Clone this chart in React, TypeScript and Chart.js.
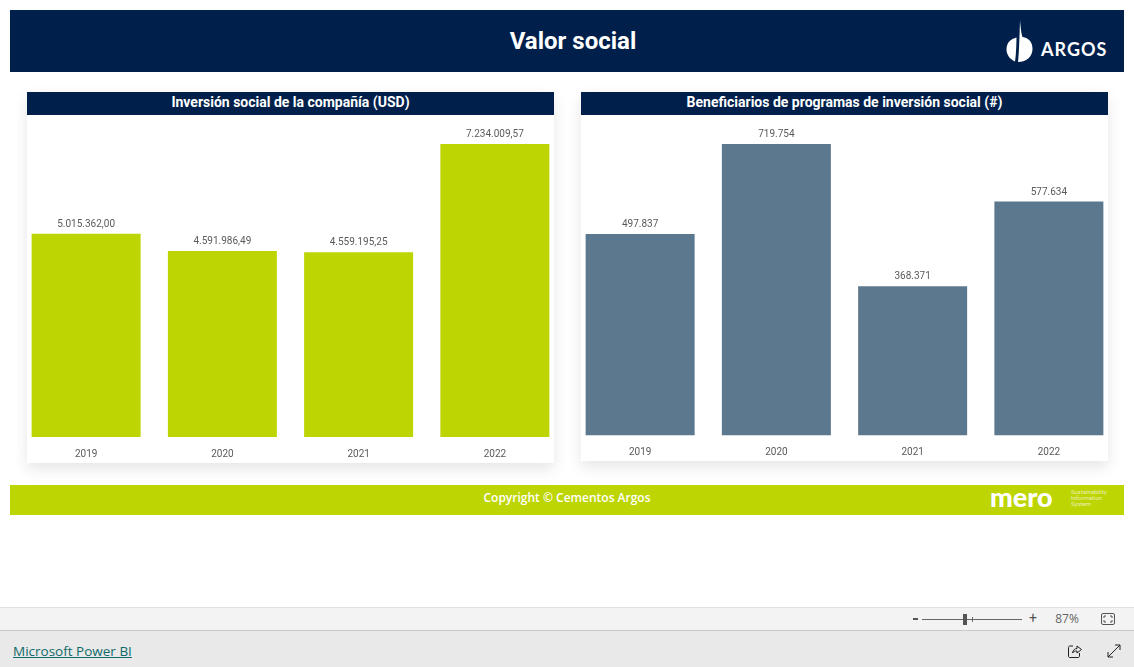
import React, { useEffect, useRef } from "react";
import { Chart, registerables } from "chart.js";

Chart.register(...registerables);

const years = ["2019", "2020", "2021", "2022"];
const investment = [5015362.0, 4591986.49, 4559195.25, 7234009.57];
const investmentLabels = ["5.015.362,00", "4.591.986,49", "4.559.195,25", "7.234.009,57"];
const beneficiaries = [497837, 719754, 368371, 577634];
const beneficiaryLabels = ["497.837", "719.754", "368.371", "577.634"];

const NAVY = "#001F4B";
const LIME = "#BDD503";
const SLATE = "#5C788F";
const FONT = "Roboto, sans-serif";

function BarPanel(props: {
  values: number[];
  labels: string[];
  color: string;
  left: number;
  height: number;
  axisHeight: number;
}) {
  const ref = useRef<HTMLCanvasElement>(null);
  useEffect(() => {
    const valuePlugin = {
      id: "valueLabels",
      afterDatasetsDraw(chart: any) {
        const { ctx } = chart;
        const meta = chart.getDatasetMeta(0);
        ctx.save();
        ctx.font = `10px ${FONT}`;
        ctx.fillStyle = "#5A5A5A";
        ctx.textAlign = "center";
        ctx.textBaseline = "alphabetic";
        meta.data.forEach((bar: any, i: number) => {
          ctx.fillText(props.labels[i], bar.x, bar.y - 7);
        });
        ctx.restore();
      },
    };
    const chart = new Chart(ref.current!, {
      type: "bar",
      data: {
        labels: years,
        datasets: [
          {
            data: props.values,
            backgroundColor: props.color,
            barPercentage: 0.8,
            categoryPercentage: 1,
          },
        ],
      },
      options: {
        animation: false,
        responsive: false,
        layout: { padding: { top: 29, left: 0, right: 0, bottom: 0 } },
        plugins: { legend: { display: false }, tooltip: { enabled: false }, title: { display: false } },
        scales: {
          x: {
            grid: { display: false },
            border: { display: false },
            afterFit(scale: any) {
              scale.height = props.axisHeight;
            },
            ticks: {
              color: "#5A5A5A",
              font: { family: FONT, size: 10 },
              padding: 3,
              maxRotation: 0,
            },
          },
          y: {
            display: false,
            min: 0,
            max: Math.max(...props.values),
          },
        },
      },
      plugins: [valuePlugin],
    });
    return () => chart.destroy();
  }, []);
  return (
    <canvas
      ref={ref}
      width={545}
      height={props.height}
      style={{ position: "absolute", left: props.left, top: 115, width: 545, height: props.height, display: "block" }}
    />
  );
}

const box = (left: number, top: number, width: number, height: number, extra: React.CSSProperties = {}): React.CSSProperties => ({
  position: "absolute",
  left,
  top,
  width,
  height,
  ...extra,
});

function Panel(props: { left: number; height: number; title: string }) {
  return (
    <>
      <div style={box(props.left, 92, 527, props.height, { background: "#fff", boxShadow: "0 6px 14px rgba(0,0,0,0.10)" })} />
      <div
        style={box(props.left, 92, 527, 23, {
          background: NAVY,
          color: "#fff",
          fontFamily: FONT,
          fontWeight: 700,
          fontSize: 14,
          lineHeight: "20px",
          textAlign: "center",
        })}
      >
        {props.title}
      </div>
    </>
  );
}

export default function App() {
  return (
    <div style={{ position: "fixed", left: 0, top: 0, width: 1134, height: 667, background: "#fff", overflow: "hidden" }}>
      <div style={box(10, 10, 1114, 62, { background: NAVY })} />
      <div
        style={box(10, 10, 1126, 62, {
          color: "#fff",
          fontFamily: FONT,
          fontWeight: 700,
          fontSize: 24,
          lineHeight: "62px",
          textAlign: "center",
        })}
      >
        Valor social
      </div>
      <svg style={box(1004, 18, 32, 46)} viewBox="0 0 32 46">
        <path d="M16 2 C16.6 10 17.5 16 18.5 19 C25 20 28.5 24 28.5 31 C28.5 38 23 44 14 44 C15 36 15.5 20 16 2 Z" fill="#fff" />
        <path d="M12.5 19.5 C12.4 28 12 37 11 43.5 C5.5 41 2.5 36.5 2.5 31 C2.5 25 6.5 21 12.5 19.5 Z" fill="#fff" />
      </svg>
      <div
        style={box(1041, 38, 70, 22, {
          color: "#fff",
          fontFamily: "Lato, sans-serif",
          fontWeight: 700,
          fontSize: 18,
          letterSpacing: 1,
          lineHeight: "22px",
        })}
      >
        ARGOS
      </div>

      <Panel left={27} height={371} title="Inversión social de la compañía (USD)" />
      <Panel left={581} height={369} title="Beneficiarios de programas de inversión social (#)" />
      <BarPanel values={investment} labels={investmentLabels} color={LIME} left={17.5} height={348} axisHeight={26} />
      <BarPanel values={beneficiaries} labels={beneficiaryLabels} color={SLATE} left={571.5} height={346} axisHeight={25.5} />

      <div
        style={box(10, 485, 1114, 30, {
          background: LIME,
          color: "#fff",
          fontFamily: "'Open Sans', sans-serif",
          fontWeight: 600,
          fontSize: 12,
          lineHeight: "26px",
          textAlign: "center",
        })}
      >
        Copyright © Cementos Argos
      </div>
      <div
        style={box(990, 482, 76, 30, {
          color: "#fff",
          fontFamily: "Lato, sans-serif",
          fontWeight: 900,
          fontSize: 27,
          lineHeight: "30px",
        })}
      >
        mero
      </div>
      <div
        style={box(1071, 489, 50, 20, {
          color: "rgba(255,255,255,0.7)",
          fontFamily: FONT,
          fontSize: 6,
          lineHeight: "6px",
        })}
      >
        Sustainability
        <br />
        Information
        <br />
        System
      </div>

      <div style={box(0, 607, 1134, 23, { background: "#F3F3F3", borderTop: "1px solid #E0E0E0" })} />
      <div style={box(0, 630, 1134, 37, { background: "#E9E9E9", borderTop: "1px solid #C8C8C8" })} />
      <div
        style={box(13, 641, 200, 20, {
          color: "#0F6A6A",
          fontFamily: "'Open Sans', sans-serif",
          fontSize: 13.5,
          lineHeight: "20px",
          textDecoration: "underline",
        })}
      >
        Microsoft Power BI
      </div>
      <div style={box(913, 618, 5, 2, { background: "#555" })} />
      <div style={box(922, 619, 100, 1, { background: "#666" })} />
      <div style={box(963, 614, 4, 11, { background: "#555" })} />
      <div style={box(972, 617, 1, 5, { background: "#666" })} />
      <div style={box(1028, 608, 10, 20, { color: "#555", fontFamily: FONT, fontSize: 14, lineHeight: "20px", textAlign: "center" })}>+</div>
      <div style={box(1050, 610, 34, 18, { color: "#666", fontFamily: "'Open Sans', sans-serif", fontSize: 12, lineHeight: "18px", textAlign: "center" })}>87%</div>
      <svg style={box(1100, 612, 16, 14)} viewBox="0 0 16 14" fill="none">
        <rect x="1.5" y="1.5" width="13" height="11" rx="1.5" stroke="#555" />
        <path d="M4 6V4H6M10 4H12V6M12 8V10H10M6 10H4V8" stroke="#555" />
      </svg>
      <svg style={box(1067, 643, 16, 16)} viewBox="0 0 16 16" fill="none">
        <path d="M6 3H3C2 3 1.500 3.500 1.500 4.500V13C1.500 14 2 14.500 3 14.500H11C12 14.500 12.500 14 12.500 13V10" stroke="#222" />
        <path d="M5.500 10C6 7 8 5.500 10 5.500V3L14.500 6.500L10 10V8C8 8 6.500 8.500 5.500 10Z" stroke="#222" />
      </svg>
      <svg style={box(1106, 643, 16, 16)} viewBox="0 0 16 16" fill="none">
        <path d="M2 14L14 2M9 2H14V7M2 9V14H7" stroke="#222" />
      </svg>
    </div>
  );
}
